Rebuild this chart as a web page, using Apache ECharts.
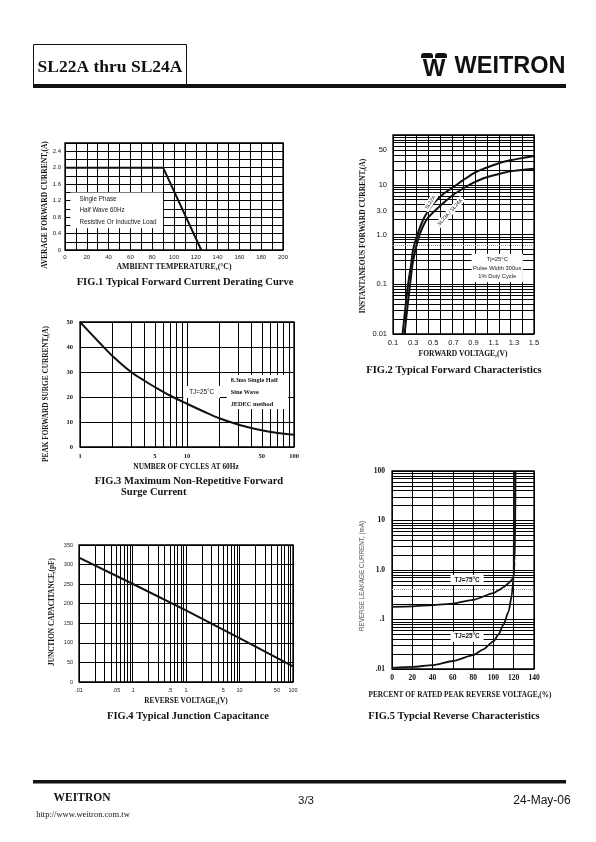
<!DOCTYPE html>
<html><head><meta charset="utf-8">
<script src="https://cdn.jsdelivr.net/npm/echarts@6/dist/echarts.min.js"></script>
<style>html,body{margin:0;padding:0;background:#fff}#c{width:596px;height:842px}</style>
</head><body><div id="c"></div>
<script>
// ---------- FIG.1 Forward current derating ----------
const fig1Temp = [0, 90, 125];
const fig1Current = [2.0, 2.0, 0];

// ---------- FIG.2 Forward characteristics ----------
const fig2VoltA = [0.195, 0.22, 0.25, 0.28, 0.30, 0.35, 0.40, 0.45, 0.50, 0.60, 0.70, 0.80, 0.90, 1.00, 1.10, 1.20, 1.30, 1.40, 1.50];
const fig2SL22A = [0.01, 0.03, 0.1, 0.25, 0.5, 1.1, 2.0, 3.0, 4.2, 6.5, 9, 12.5, 17, 21, 25, 29, 32, 35, 38];
const fig2VoltB = [0.215, 0.24, 0.27, 0.30, 0.35, 0.40, 0.45, 0.50, 0.60, 0.70, 0.80, 0.90, 1.00, 1.10, 1.20, 1.30, 1.40, 1.50];
const fig2SL23A = [0.01, 0.03, 0.1, 0.3, 0.8, 1.5, 2.2, 2.8, 4.3, 6.3, 8.5, 11, 13.5, 15.5, 17.5, 19, 20, 21];
const fig2YLabels = [0.01, 0.1, 1, 3, 10, 50];

// ---------- FIG.3 Surge current ----------
const fig3Cycles = [1, 1.5, 2, 3, 4, 5, 7, 10, 15, 20, 30, 40, 50, 70, 100];
const fig3Current = [50, 42, 36.5, 30, 26.5, 24, 20.5, 17.3, 13.8, 11.5, 9, 7.6, 6.7, 5.6, 4.9];
const fig3XLabels = [1, 5, 10, 50, 100];

// ---------- FIG.4 Junction capacitance ----------
const fig4Volt = [0.01, 0.1, 1, 10, 100];
const fig4Cap = [318, 251, 183, 112, 40];
const fig4XLabels = [0.01, 0.05, 0.1, 0.5, 1, 5, 10, 50, 100];

// ---------- FIG.5 Reverse characteristics ----------
const fig5Pct75 = [0, 20, 40, 60, 80, 100, 105, 110, 115, 118, 120, 120.8, 121.3, 121.8];
const fig5Cur75 = [0.18, 0.185, 0.195, 0.21, 0.25, 0.34, 0.39, 0.45, 0.54, 0.63, 0.75, 1.5, 5, 100];
const fig5Pct25 = [0, 20, 40, 60, 80, 90, 100, 105, 110, 115, 118, 120, 120.2, 120.3];
const fig5Cur25 = [0.0105, 0.011, 0.012, 0.0145, 0.019, 0.025, 0.036, 0.05, 0.08, 0.145, 0.3, 0.75, 10, 100];
const fig5YLabels = [0.01, 0.1, 1, 10, 100];

// ---------- helpers ----------
const zip = (xs, ys) => xs.map((x, i) => [x, ys[i]]);
function logMinor(min, max) {
  const out = [];
  for (let e = Math.floor(Math.log10(min)); e < Math.ceil(Math.log10(max)); e++) {
    for (let k = 2; k <= 9; k++) {
      const v = Number((k * Math.pow(10, e)).toPrecision(3));
      if (v > min && v < max) out.push(v);
    }
  }
  return out;
}
const SERIF = '"Liberation Serif", "Times New Roman", serif';
const SANS = '"Liberation Sans", Arial, sans-serif';
const gridLine = {color: '#000', width: 1};
function minorLines(vals, axisKey, dotted) {
  return {
    silent: true, z: 1, symbol: ['none', 'none'], label: {show: false},
    lineStyle: {color: '#000', width: 1, type: 'solid'}, animation: false,
    emphasis: {disabled: true},
    data: vals.map(v => {
      const o = {}; o[axisKey] = v;
      if (dotted !== undefined && v === dotted) o.lineStyle = {color: '#999', type: 'dotted', width: 1};
      return o;
    })
  };
}
const curve = {color: '#111', width: 2};

const chart = echarts.init(document.getElementById('c'), null, {renderer: 'canvas'});

const grids = [
  {left: 65, top: 143, width: 218, height: 107},
  {left: 393, top: 135, width: 141, height: 199},
  {left: 80, top: 322, width: 214, height: 125},
  {left: 79, top: 545, width: 214, height: 137},
  {left: 392, top: 471, width: 142, height: 198}
].map(g => Object.assign(g, {show: true, borderColor: '#000', borderWidth: 1.3, backgroundColor: 'transparent', containLabel: false}));

const noLine = {show: false};
const noTick = {show: false};

const xAxis = [
  { // fig1
    gridIndex: 0, type: 'value', min: 0, max: 200, interval: 10,
    axisLine: noLine, axisTick: noTick,
    splitLine: {show: true, lineStyle: gridLine},
    axisLabel: {interval: 0, margin: 4, fontFamily: SANS, fontSize: 6, color: '#222',
      formatter: v => (Math.round(v) % 20 === 0 ? String(Math.round(v)) : '')}
  },
  { // fig2 primary
    gridIndex: 1, type: 'value', min: 0.1, max: 1.5, interval: 0.2,
    axisLine: noLine, axisTick: noTick, splitLine: {show: false},
    axisLabel: {margin: 5, fontFamily: SANS, fontSize: 7.5, color: '#111',
      formatter: v => v.toFixed(1)}
  },
  { // fig2 grid-only axis
    gridIndex: 1, type: 'value', min: 0, max: 12, interval: 1, position: 'top',
    axisLine: noLine, axisTick: noTick, axisLabel: {show: false},
    splitLine: {show: true, lineStyle: gridLine}
  },
  { // fig3
    gridIndex: 2, type: 'log', logBase: 10, min: 1, max: 100,
    axisLine: noLine, axisTick: noTick,
    splitLine: {show: true, lineStyle: gridLine},
    axisLabel: {customValues: fig3XLabels, margin: 6, fontFamily: SERIF, fontWeight: 'bold', fontSize: 6.5, color: '#111',
      formatter: v => String(Math.round(v))}
  },
  { // fig4
    gridIndex: 3, type: 'log', logBase: 10, min: 0.01, max: 100,
    axisLine: noLine, axisTick: noTick,
    splitLine: {show: true, lineStyle: gridLine},
    axisLabel: {customValues: fig4XLabels, margin: 5, fontFamily: SANS, fontSize: 5.5, color: '#222',
      formatter: v => { const s = String(Number(Number(v).toPrecision(2))); return s.replace(/^0\./, '.'); }}
  },
  { // fig5
    gridIndex: 4, type: 'value', min: 0, max: 140, interval: 20,
    axisLine: noLine, axisTick: noTick,
    splitLine: {show: true, lineStyle: gridLine},
    axisLabel: {margin: 5, fontFamily: SERIF, fontWeight: 'bold', fontSize: 7.5, color: '#111'}
  }
];

const fig2Fmt = {0.01: '0.01', 0.1: '0.1', 1: '1.0', 3: '3.0', 10: '10', 50: '50'};
const fig5Fmt = {0.01: '.01', 0.1: '.1', 1: '1.0', 10: '10', 100: '100'};
const yAxis = [
  { // fig1
    gridIndex: 0, type: 'value', min: 0, max: 2.6, interval: 0.2,
    axisLine: noLine, axisTick: noTick,
    splitLine: {show: true, lineStyle: gridLine},
    axisLabel: {interval: 0, margin: 4, fontFamily: SANS, fontSize: 6, color: '#222',
      formatter: v => { const t = Math.round(v * 10); if (t % 4 !== 0 || t > 24) return ''; return t === 0 ? '0' : (t / 10).toFixed(1); }}
  },
  { // fig2
    gridIndex: 1, type: 'log', logBase: 10, min: 0.01, max: 100,
    axisLine: noLine, axisTick: noTick,
    splitLine: {show: true, lineStyle: gridLine},
    axisLabel: {customValues: fig2YLabels, margin: 6, fontFamily: SANS, fontSize: 7.5, color: '#111',
      formatter: v => fig2Fmt[Number(Number(v).toPrecision(3))] || ''}
  },
  { // fig3
    gridIndex: 2, type: 'value', min: 0, max: 50, interval: 10,
    axisLine: noLine, axisTick: noTick,
    splitLine: {show: true, lineStyle: gridLine},
    axisLabel: {margin: 7, fontFamily: SERIF, fontWeight: 'bold', fontSize: 6.5, color: '#111'}
  },
  { // fig4
    gridIndex: 3, type: 'value', min: 0, max: 350, interval: 50,
    axisLine: noLine, axisTick: noTick,
    splitLine: {show: true, lineStyle: gridLine},
    axisLabel: {margin: 6, fontFamily: SANS, fontSize: 5.5, color: '#222'}
  },
  { // fig5
    gridIndex: 4, type: 'log', logBase: 10, min: 0.01, max: 100,
    axisLine: noLine, axisTick: noTick,
    splitLine: {show: true, lineStyle: gridLine},
    axisLabel: {customValues: fig5YLabels, margin: 7, fontFamily: SERIF, fontWeight: 'bold', fontSize: 7.5, color: '#111',
      formatter: v => fig5Fmt[Number(Number(v).toPrecision(3))] || ''}
  }
];

const whiteArea = (x1, y1, x2, y2, label) => ({
  silent: true, z: 3, animation: false,
  itemStyle: {color: '#fff', borderWidth: 0},
  label: label,
  data: [[{xAxis: x1, yAxis: y1}, {xAxis: x2, yAxis: y2}]]
});
const tagPoint = (coord, text, opts) => ({
  symbol: 'rect', symbolSize: 0.1, coord: coord,
  label: Object.assign({show: true, position: 'inside', formatter: text, color: '#111',
    backgroundColor: '#fff', padding: [1, 2]}, opts)
});

const series = [
  { // fig1
    type: 'line', xAxisIndex: 0, yAxisIndex: 0, data: zip(fig1Temp, fig1Current),
    symbol: 'none', lineStyle: curve, z: 2,
    markArea: whiteArea(5, 0.53, 90, 1.40, {
      show: true, position: 'insideLeft', distance: 9, align: 'left',
      formatter: 'Single Phase\nHalf Wave 60Hz\nResistive Or Inductive Load',
      fontFamily: SANS, fontSize: 6.3, lineHeight: 11.5, color: '#222'
    })
  },
  { // fig2 SL22A
    type: 'line', xAxisIndex: 1, yAxisIndex: 1, data: zip(fig2VoltA, fig2SL22A),
    symbol: 'none', smooth: 0.3, lineStyle: curve, z: 2,
    markLine: minorLines(logMinor(0.01, 100), 'yAxis', 0.6),
    markPoint: {silent: true, animation: false, data: [
      tagPoint([0.47, 4.4], 'SL22A', {rotate: 58, fontFamily: SANS, fontSize: 5})
    ]}
  },
  { // fig2 SL23A/SL24A
    type: 'line', xAxisIndex: 1, yAxisIndex: 1, data: zip(fig2VoltB, fig2SL23A),
    symbol: 'none', smooth: 0.3, lineStyle: curve, z: 2,
    markArea: whiteArea(0.88, 0.11, 1.39, 0.41, {
      show: true, position: 'inside',
      formatter: 'Tj=25°C\nPulse Width 300us\n1% Duty Cycle',
      fontFamily: SANS, fontSize: 5.8, lineHeight: 8.5, color: '#222'
    }),
    markPoint: {silent: true, animation: false, data: [
      tagPoint([0.665, 2.8], 'SL23A / SL24A', {rotate: 48, fontFamily: SANS, fontSize: 5})
    ]}
  },
  { // fig3
    type: 'line', xAxisIndex: 3, yAxisIndex: 2, data: zip(fig3Cycles, fig3Current),
    symbol: 'none', smooth: 0.3, lineStyle: curve, z: 2,
    markLine: minorLines(logMinor(1, 100), 'xAxis'),
    markArea: whiteArea(23.5, 15.2, 88, 28.9, {
      show: true, position: 'insideLeft', distance: 4, align: 'left',
      formatter: '8.3ms Single Half\nSine Wave\nJEDEC method',
      fontFamily: SERIF, fontWeight: 'bold', fontSize: 6.3, lineHeight: 12, color: '#111'
    }),
    markPoint: {silent: true, animation: false, data: [
      tagPoint([13.7, 22], 'TJ=25°C', {fontFamily: SANS, fontSize: 6.3, padding: [3, 6]})
    ]}
  },
  { // fig4
    type: 'line', xAxisIndex: 4, yAxisIndex: 3, data: zip(fig4Volt, fig4Cap),
    symbol: 'none', lineStyle: curve, z: 2,
    markLine: minorLines(logMinor(0.01, 100), 'xAxis')
  },
  { // fig5 75C
    type: 'line', xAxisIndex: 5, yAxisIndex: 4, data: zip(fig5Pct75, fig5Cur75),
    symbol: 'none', smooth: 0.2, smoothMonotone: 'x', lineStyle: {color: '#111', width: 1.8}, z: 2,
    markLine: minorLines(logMinor(0.01, 100), 'yAxis', 0.4),
    markPoint: {silent: true, animation: false, data: [
      tagPoint([74, 0.63], 'TJ=75°C', {fontFamily: SANS, fontWeight: 'bold', fontSize: 6.3, padding: [2, 4]})
    ]}
  },
  { // fig5 25C
    type: 'line', xAxisIndex: 5, yAxisIndex: 4, data: zip(fig5Pct25, fig5Cur25),
    symbol: 'none', smooth: 0.2, smoothMonotone: 'x', lineStyle: {color: '#111', width: 1.8}, z: 2,
    markPoint: {silent: true, animation: false, data: [
      tagPoint([74, 0.045], 'TJ=25°C', {fontFamily: SANS, fontWeight: 'bold', fontSize: 6.3, padding: [2, 4]})
    ]}
  }
];

const txt = (x, y, text, font, opts) => Object.assign({
  type: 'text', x: x, y: y, silent: true,
  style: Object.assign({text: text, fill: '#111', align: 'center', verticalAlign: 'middle'}, font)
}, opts || {});
const bs = (size) => ({fontFamily: SERIF, fontWeight: 'bold', fontSize: size});
const rot = {rotation: Math.PI / 2};

const graphic = [
  // header
  {type: 'rect', shape: {x: 33.5, y: 44.5, width: 153, height: 42}, style: {fill: 'none', stroke: '#111', lineWidth: 1}},
  {type: 'rect', shape: {x: 33, y: 84, width: 533, height: 4}, style: {fill: '#111'}},
  txt(110, 67, 'SL22A thru SL24A', bs(17.5)),
  txt(510, 67, 'WEITRON', {fontFamily: SANS, fontWeight: 'bold', fontSize: 23.5}),
  txt(434, 69, 'W', {fontFamily: SANS, fontWeight: 'bold', fontSize: 24}),
  {type: 'rect', shape: {x: 421, y: 53, width: 12, height: 5, r: [3, 3, 0, 0]}, style: {fill: '#111'}},
  {type: 'rect', shape: {x: 435, y: 53, width: 12, height: 5, r: [3, 3, 0, 0]}, style: {fill: '#111'}},
  // fig1 texts
  txt(45, 205, 'AVERAGE FORWARD CURRENT,(A)', bs(7.5), rot),
  txt(174, 267, 'AMBIENT TEMPERATURE,(°C)', bs(7.8)),
  txt(185, 282, 'FIG.1 Typical Forward Current Derating Curve', bs(10.5)),
  // fig2 texts
  txt(363, 236, 'INSTANTANEOUS FORWARD CURRENT,(A)', bs(7.5), rot),
  txt(463, 354, 'FORWARD VOLTAGE,(V)', bs(7.5)),
  txt(454, 370, 'FIG.2 Typical Forward Characteristics', bs(10.5)),
  // fig3 texts
  txt(46, 394, 'PEAK FORWARD SURGE CURRENT,(A)', bs(7.3), rot),
  txt(186, 467, 'NUMBER OF CYCLES AT 60Hz', bs(7.3)),
  txt(189, 481, 'FIG.3 Maximum Non-Repetitive Forward', bs(10.5)),
  txt(121, 492, 'Surge Current', bs(10.5), {style: {text: 'Surge Current', fill: '#111', align: 'left', verticalAlign: 'middle', fontFamily: SERIF, fontWeight: 'bold', fontSize: 10.5}}),
  // fig4 texts
  txt(52, 612, 'JUNCTION CAPACITANCE,(pF)', bs(7.3), rot),
  txt(186, 701, 'REVERSE VOLTAGE,(V)', bs(7.3)),
  txt(188, 716, 'FIG.4 Typical Junction Capacitance', bs(10.5)),
  // fig5 texts
  txt(362, 576, 'REVERSE LEAKAGE CURRENT, (mA)', {fontFamily: SANS, fontSize: 6.3, fill: '#555'}, rot),
  txt(460, 695, 'PERCENT OF RATED PEAK REVERSE VOLTAGE,(%)', bs(7.3)),
  txt(454, 716, 'FIG.5 Typcial Reverse Characteristics', bs(10.5)),
  // footer
  {type: 'rect', shape: {x: 33, y: 780, width: 533, height: 3.5}, style: {fill: '#111'}},
  txt(82, 798, 'WEITRON', bs(11.5)),
  txt(83, 815, 'http://www.weitron.com.tw', {fontFamily: SERIF, fontSize: 8.5}),
  txt(306, 801, '3/3', {fontFamily: SANS, fontSize: 11.5}),
  txt(542, 801, '24-May-06', {fontFamily: SANS, fontSize: 12})
];

chart.setOption({
  animation: false,
  backgroundColor: '#fff',
  grid: grids,
  xAxis: xAxis,
  yAxis: yAxis,
  series: series,
  graphic: graphic
});
</script>
</body></html>
